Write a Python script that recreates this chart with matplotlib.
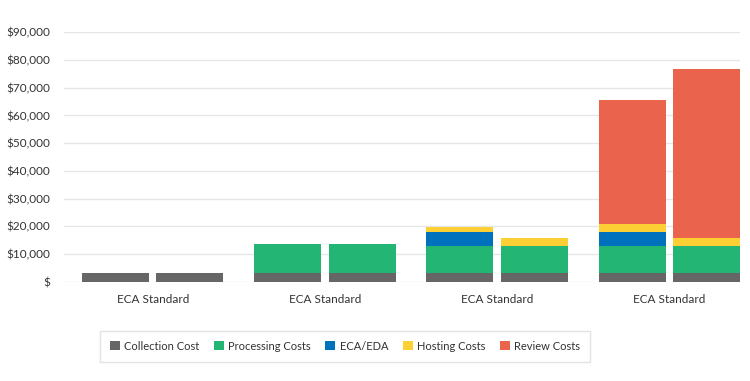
import matplotlib
matplotlib.use("Agg")
import matplotlib.pyplot as plt
import numpy as np
from matplotlib.ticker import FuncFormatter

plt.rcParams['font.family'] = ['Lato', 'DejaVu Sans']

groups = ["ECA Standard", "ECA Standard", "ECA Standard", "ECA Standard"]
# each group has two bars (ECA, Standard)
collection = [[3000, 3000], [3000, 3000], [3000, 3000], [3000, 3000]]
processing = [[0, 0], [10500, 10500], [10000, 10000], [10000, 10000]]
eca_eda = [[0, 0], [0, 0], [5000, 0], [5000, 0]]
hosting = [[0, 0], [0, 0], [1800, 2800], [2800, 2800]]
review = [[0, 0], [0, 0], [0, 0], [44600, 60800]]

series_names = ["Collection Cost", "Processing Costs", "ECA/EDA", "Hosting Costs", "Review Costs"]
colors = ["#666666", "#23b574", "#0071bc", "#fcd035", "#ea634c"]
yticks = [0, 10000, 20000, 30000, 40000, 50000, 60000, 70000, 80000, 90000]

fig = plt.figure(figsize=(7.5, 3.81), dpi=100)
ax = fig.add_axes([64/750, (381-281.7)/381, (740-64)/750, (281.7-32.3)/381])

data = [np.array(collection), np.array(processing), np.array(eca_eda), np.array(hosting), np.array(review)]
x = np.arange(len(groups))
width = 0.389
offsets = [-0.2165, 0.2165]
for j, off in enumerate(offsets):
    bottom = np.zeros(len(groups))
    for s, (vals, col, name) in enumerate(zip(data, colors, series_names)):
        v = vals[:, j]
        ax.bar(x + off, v, width, bottom=bottom, color=col, edgecolor='none',
               label=name if j == 0 else None, zorder=3)
        bottom = bottom + v

ax.set_xlim(-0.515, 3.41)
ax.set_ylim(0, 90000)
ax.set_yticks(yticks)
ax.yaxis.set_major_formatter(FuncFormatter(lambda v, p: "$" if v == 0 else "${:,.0f}".format(v)))
ax.set_xticks(x)
ax.set_xticklabels(groups)
ax.grid(axis='y', color='#e6e6e6', linewidth=1, zorder=0)
for sp in ax.spines.values():
    sp.set_visible(False)
ax.tick_params(axis='both', length=0, labelsize=8.5, colors='#333333')
ax.tick_params(axis='y', pad=10)
ax.tick_params(axis='x', pad=9)

leg = fig.legend(loc='center', bbox_to_anchor=(345/750, 1 - 346/381), ncol=5,
                 frameon=True, fontsize=8, handlelength=0.9, handleheight=0.9,
                 handletextpad=0.4, columnspacing=1.3, borderpad=0.9, fancybox=False,
                 labelcolor='#333333')
leg.get_frame().set_edgecolor('#dddddd')
leg.get_frame().set_linewidth(1)

fig.savefig("out.png", dpi=100)
